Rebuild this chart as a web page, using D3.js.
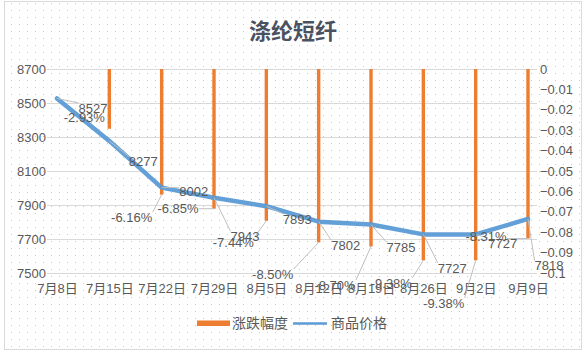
<!DOCTYPE html>
<html>
<head>
<meta charset="utf-8">
<script src="https://cdn.jsdelivr.net/npm/d3@7"></script>
<style>
  html, body { margin: 0; padding: 0; background: #fff; }
  svg { display: block; }
  text { font-family: "Liberation Sans", "Noto Sans CJK SC", sans-serif; }
</style>
</head>
<body>
<svg id="chart" width="586" height="352"></svg>
<script>
// ---------------- data ----------------
const categories = ["7月8日","7月15日","7月22日","7月29日","8月5日","8月12日","8月19日","8月26日","9月2日","9月9日"];
const prices     = [8527, 8277, 8002, 7943, 7893, 7802, 7785, 7727, 7727, 7818];
const changes    = [null, -0.0293, -0.0616, -0.0685, -0.0744, -0.0850, -0.0870, -0.0938, -0.0938, -0.0831];
const changeLabels = ["", "-2.93%", "-6.16%", "-6.85%", "-7.44%", "-8.50%", "-8.70%", "-9.38%", "-9.38%", "-8.31%"];
const leftTicks  = [7500, 7700, 7900, 8100, 8300, 8500, 8700];
const rightTicks = [0, -0.01, -0.02, -0.03, -0.04, -0.05, -0.06, -0.07, -0.08, -0.09, -0.1];
const title = "涤纶短纤";
const seriesNames = ["涨跌幅度", "商品价格"];

// label placement offsets (layout, relative to each mark's anchor)
const priceLabelOffset  = [[36,10],[34,21],[32,4],[31,39],[31,13],[27,24],[30,23],[29,34],[27,9],[21,47]];
const changeLabelOffset = [null,[-25,-11],[-30,23],[-36,0],[-33,22],[-46,32],[-36,39],[-32,23],[-32,43],[-42,-2]];

// ---------------- layout ----------------
const W = 586, H = 352;
const svg = d3.select("#chart");
const colBar = "#ED7D31", colLine = "#5B9BD5", colText = "#595959", colGrid = "#D9D9D9";

// dotted background
const defs = svg.append("defs");
const pat = defs.append("pattern").attr("id","dots").attr("patternUnits","userSpaceOnUse")
  .attr("width", 8).attr("height", 7);
pat.append("rect").attr("x",3).attr("y",3).attr("width",1).attr("height",1).attr("fill","#c9c9c9");
svg.append("rect").attr("x",4.5).attr("y",1.5).attr("width",577).attr("height",348)
  .attr("fill","#fff").attr("stroke","#D9D9D9");
svg.append("rect").attr("x",5).attr("y",2).attr("width",576).attr("height",347).attr("fill","url(#dots)");

const x = d3.scalePoint().domain(categories).range([57, 528]);
const yL = d3.scaleLinear().domain([7500, 8700]).range([273, 69]);
const yR = d3.scaleLinear().domain([-0.1, 0]).range([273, 69]);
const gridX0 = 47, gridX1 = 537;

// gridlines
svg.append("g").selectAll("line").data(leftTicks).join("line")
  .attr("x1", gridX0).attr("x2", gridX1)
  .attr("y1", d => Math.round(yL(d)) + 0.5).attr("y2", d => Math.round(yL(d)) + 0.5)
  .attr("stroke", colGrid).attr("stroke-width", 1);

// left axis
const axL = d3.axisLeft(yL).tickValues(leftTicks).tickSize(0).tickPadding(0).tickFormat(d3.format("d"));
const gL = svg.append("g").attr("transform", `translate(46,0)`).call(axL);
gL.select(".domain").remove();
gL.selectAll("text").attr("fill", colText).style("font-size","13px");

// right axis
const axR = d3.axisRight(yR).tickValues(rightTicks).tickSize(0).tickPadding(0)
  .tickFormat(d => d === 0 ? "0" : d3.format("")(+d.toFixed(2)));
const gR = svg.append("g").attr("transform", `translate(540,0)`).call(axR);
gR.select(".domain").remove();
gR.selectAll("text").attr("fill", colText).style("font-size","13px");

// bottom axis
const axB = d3.axisBottom(x).tickSize(0).tickPadding(0);
const gB = svg.append("g").attr("transform", `translate(0,284)`).call(axB);
gB.select(".domain").remove();
gB.selectAll("text").attr("fill", colText).style("font-size","13px").attr("dy","0.71em");

// bars (hanging from 0 on right axis)
const barData = categories.map((c,i) => ({c, v: changes[i], label: changeLabels[i], off: changeLabelOffset[i]}))
  .filter(d => d.v !== null);
svg.append("g").selectAll("rect").data(barData).join("rect")
  .attr("x", d => x(d.c) - 1.7).attr("width", 3.4)
  .attr("y", yR(0)).attr("height", d => yR(d.v) - yR(0))
  .attr("fill", colBar);

// line
const line = d3.line().x((d,i) => x(categories[i])).y(d => yL(d));
svg.append("path").datum(prices).attr("d", line)
  .attr("fill","none").attr("stroke", colLine).attr("stroke-width", 4.5)
  .attr("stroke-linejoin","round").attr("stroke-linecap","round").attr("opacity",0.95);

// data labels with leader lines
const labels = [];
prices.forEach((p,i) => {
  const ax = x(categories[i]), ay = yL(p);
  labels.push({ax, ay, tx: ax + priceLabelOffset[i][0], ty: ay + priceLabelOffset[i][1], text: String(p)});
});
barData.forEach(d => {
  const ax = x(d.c), ay = yR(d.v);
  labels.push({ax, ay, tx: ax + d.off[0], ty: ay + d.off[1], text: d.label});
});
const gLab = svg.append("g");
const texts = gLab.selectAll("text").data(labels).join("text")
  .attr("x", d => d.tx).attr("y", d => d.ty).attr("dy","0.35em")
  .attr("text-anchor","middle").attr("fill", colText).style("font-size","13px")
  .text(d => d.text);
texts.each(function(d){
  const b = this.getBBox();
  const nx = Math.max(b.x, Math.min(d.ax, b.x + b.width));
  const ny = Math.max(b.y + 2, Math.min(d.ay, b.y + b.height - 2));
  const dist = Math.hypot(nx - d.ax, ny - d.ay);
  if (dist > 9) {
    gLab.insert("line", "text").attr("x1", d.ax).attr("y1", d.ay).attr("x2", nx).attr("y2", ny)
      .attr("stroke", "#BFBFBF").attr("stroke-width", 1);
  }
});

// title
svg.append("text").attr("x", 293).attr("y", 31).attr("dy","0.35em").attr("text-anchor","middle")
  .attr("fill", "#4a5262").style("font-size","22px").style("font-weight","bold").text(title);

// legend
const lg = svg.append("g");
lg.append("rect").attr("x",197).attr("y",320.5).attr("width",33).attr("height",5.5).attr("fill",colBar);
lg.append("text").attr("x",232).attr("y",323.5).attr("dy","0.35em").attr("fill",colText)
  .style("font-size","14px").text(seriesNames[0]);
lg.append("line").attr("x1",293).attr("x2",327).attr("y1",323.5).attr("y2",323.5)
  .attr("stroke",colLine).attr("stroke-width",2.5);
lg.append("text").attr("x",331).attr("y",323.5).attr("dy","0.35em").attr("fill",colText)
  .style("font-size","14px").text(seriesNames[1]);
</script>
</body>
</html>
